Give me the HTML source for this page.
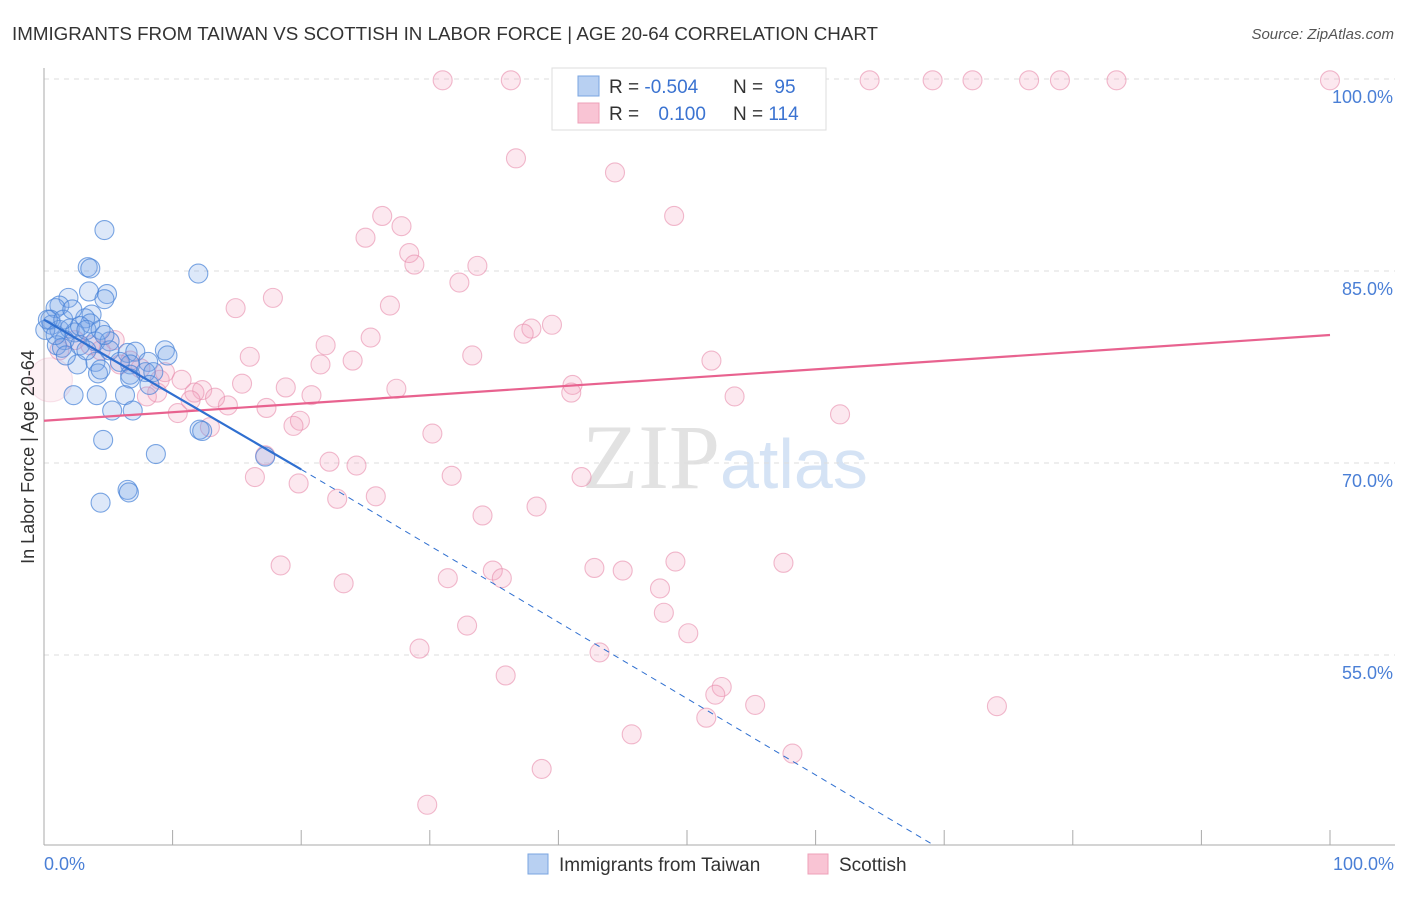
<!DOCTYPE html>
<html><head><meta charset="utf-8"><style>
body{margin:0;background:#fff;font-family:"Liberation Sans",sans-serif}
</style></head><body>
<svg width="1406" height="892" xmlns="http://www.w3.org/2000/svg" font-family="Liberation Sans, sans-serif">
<text x="12" y="40" font-size="18" fill="#333" textLength="866" lengthAdjust="spacingAndGlyphs">IMMIGRANTS FROM TAIWAN VS SCOTTISH IN LABOR FORCE | AGE 20-64 CORRELATION CHART</text>
<text x="1394" y="39" font-size="15" fill="#555" font-style="italic" text-anchor="end">Source: ZipAtlas.com</text>
<text x="720" y="488" font-size="92" fill="#e2e2e2" text-anchor="end" font-family="Liberation Serif, serif">ZIP</text>
<text x="720" y="488" font-size="70" fill="#d5e3f5">atlas</text>
<g id="grid"></g>
<g id="pts"></g>
<g id="lines"></g>
<text transform="translate(34,457) rotate(-90)" font-size="18" fill="#333" text-anchor="middle">In Labor Force | Age 20-64</text>
<text x="44" y="870" font-size="18" fill="#4a7fd6">0.0%</text>
<text x="1394" y="870" font-size="18" fill="#4a7fd6" text-anchor="end">100.0%</text>
<g>
<rect x="552" y="68" width="274" height="62" fill="#fff" stroke="#ddd"/>
<rect x="578" y="76" width="21" height="20" fill="#b8d0f2" stroke="#7aa5e0"/>
<rect x="578" y="103" width="21" height="20" fill="#f9c4d4" stroke="#eea0b8"/>
<text x="609" y="93" font-size="19" fill="#333">R = <tspan fill="#3b73d1">-0.504</tspan></text>
<text x="733" y="93" font-size="19" fill="#333">N = <tspan fill="#3b73d1" dx="6">95</tspan></text>
<text x="609" y="120" font-size="19" fill="#333">R = <tspan fill="#3b73d1" dx="14">0.100</tspan></text>
<text x="733" y="120" font-size="19" fill="#333">N = <tspan fill="#3b73d1">114</tspan></text>
</g>
<g>
<rect x="528" y="854" width="20" height="20" fill="#b8d0f2" stroke="#7aa5e0"/>
<text x="559" y="871" font-size="19" fill="#333">Immigrants from Taiwan</text>
<rect x="808" y="854" width="20" height="20" fill="#f9c4d4" stroke="#eea0b8"/>
<text x="839" y="871" font-size="19" fill="#333">Scottish</text>
</g>
</svg>
<script>
const yTicks=[100,85,70,55];
const yTickLabels=["100.0%","85.0%","70.0%","55.0%"];
const pinkX=[31.0,36.3,59.3,64.2,69.1,72.2,76.6,79.0,83.4,100,36.7,44.4,49.0,26.3,27.8,25.0,28.4,28.8,33.7,32.3,14.9,17.8,26.9,39.5,37.9,37.3,21.9,25.4,16.0,24.0,33.3,51.9,21.5,41.1,41.0,27.4,53.7,15.4,18.8,20.8,61.9,12.3,11.7,14.3,10.4,17.3,19.9,19.4,30.2,12.9,8.8,8.0,9.0,10.7,22.2,24.3,17.2,16.4,31.7,19.8,41.8,22.8,25.8,38.3,34.1,18.4,23.3,31.4,34.9,35.6,42.8,45.0,49.1,57.5,47.9,48.2,32.9,50.1,29.2,43.2,35.9,52.7,52.2,55.3,51.5,74.1,45.7,58.2,38.7,29.8,6.7,5.9,7.5,3.6,4.4,5.5,1.2,2.4,9.4,11.4,13.3,0.5];
const pinkY=[99.9,99.9,99.9,99.9,99.9,99.9,99.9,99.9,99.9,99.9,93.8,92.7,89.3,89.3,88.5,87.6,86.4,85.5,85.4,84.1,82.1,82.9,82.3,80.8,80.5,80.1,79.2,79.8,78.3,78.0,78.4,78.0,77.7,76.1,75.5,75.8,75.2,76.2,75.9,75.3,73.8,75.7,75.5,74.5,73.9,74.3,73.3,72.9,72.3,72.8,75.5,75.2,76.5,76.5,70.1,69.8,70.6,68.9,69.0,68.4,68.9,67.2,67.4,66.6,65.9,62.0,60.6,61.0,61.6,61.0,61.8,61.6,62.3,62.2,60.2,58.3,57.3,56.7,55.5,55.2,53.4,52.5,51.9,51.1,50.1,51.0,48.8,47.3,46.1,43.3,78.0,77.7,77.4,79.2,78.8,79.6,78.8,79.6,77.1,74.9,75.1,76.5];
const blueX=[4.7,3.4,3.6,12.0,3.5,4.9,4.7,1.9,1.2,0.9,3.7,3.2,3.6,0.5,0.6,1.2,2.0,2.4,1.6,2.8,4.0,1.0,1.4,5.1,5.1,6.5,7.1,9.4,9.6,8.1,6.7,5.9,4.0,2.6,4.2,4.4,6.7,7.9,8.5,6.7,2.3,4.1,6.3,5.3,6.9,8.2,12.1,12.3,4.6,8.7,17.2,6.5,6.6,4.4,0.1,0.3,0.9,1.5,2.2,2.8,3.3,4.4,4.7,1.7,3.3];
const blueY=[88.2,85.3,85.2,84.8,83.4,83.2,82.8,82.9,82.3,82.1,81.6,81.3,80.9,81.2,80.8,80.4,80.5,80.2,79.6,79.2,79.5,79.2,79.0,79.5,78.8,78.6,78.7,78.8,78.4,77.9,77.7,77.9,77.9,77.7,77.0,77.3,76.9,77.1,77.1,76.6,75.3,75.3,75.3,74.1,74.1,76.1,72.6,72.5,71.8,70.7,70.5,67.9,67.7,66.9,80.4,81.2,80.0,81.2,82.0,80.7,80.4,80.4,80.0,78.4,78.8];
const pinkTrend=[73.3,80.0];
const blueTrend=[81.2,69.5];
const blueTrendEnd=[69.1,40.2];
const NS="http://www.w3.org/2000/svg";
const X=v=>44+v*12.86, Y=v=>79+(100-v)*12.8;
function mk(t,a,p){const e=document.createElementNS(NS,t);for(const k in a)e.setAttribute(k,a[k]);document.getElementById(p).appendChild(e);return e;}
yTicks.forEach((t,i)=>{
 const g=mk('line',{x1:44,x2:1395,y1:Y(t),y2:Y(t),stroke:'#ddd','stroke-dasharray':'5,5'},'grid');
 
 
 const l=mk('text',{x:1393,y:Y(t)+24,'font-size':18,fill:'#4a7fd6','text-anchor':'end'},'grid');
 l.textContent=yTickLabels[i];
 
 
});
mk('line',{x1:44,x2:44,y1:68,y2:845,stroke:'#aaa'},'grid');
mk('line',{x1:44,x2:1395,y1:845,y2:845,stroke:'#aaa'},'grid');
for(let i=0;i<=10;i++){const t=mk('line',{x1:X(i*10),x2:X(i*10),y1:830,y2:845,stroke:'#aaa'},'grid');
 
 }
pinkX.forEach((x,i)=>{const big=(i===pinkX.length-1);
 const c=mk('circle',{cx:X(x),cy:Y(pinkY[i]),r:big?22:9.5,fill:big?'rgba(244,170,195,0.18)':'rgba(244,165,192,0.25)',stroke:big?'rgba(232,150,178,0.25)':'rgba(232,140,172,0.6)','stroke-width':1.1},'pts');
 
 });
blueX.forEach((x,i)=>{
 const c=mk('circle',{cx:X(x),cy:Y(blueY[i]),r:9.5,fill:'rgba(120,165,230,0.25)',stroke:'rgba(70,130,215,0.7)','stroke-width':1.1},'pts');
 
 });
let a=mk('line',{x1:X(0),y1:Y(pinkTrend[0]),x2:X(100),y2:Y(pinkTrend[1]),stroke:'#e8628f','stroke-width':2.2},'lines');


a=mk('line',{x1:X(0),y1:Y(blueTrend[0]),x2:X(20),y2:Y(blueTrend[1]),stroke:'#2f6fd0','stroke-width':2.2},'lines');


a=mk('line',{x1:X(20),y1:Y(blueTrend[1]),x2:X(blueTrendEnd[0]),y2:Y(blueTrendEnd[1]),stroke:'#2f6fd0','stroke-width':1,'stroke-dasharray':'6,5'},'lines');


</script>
</body></html>
